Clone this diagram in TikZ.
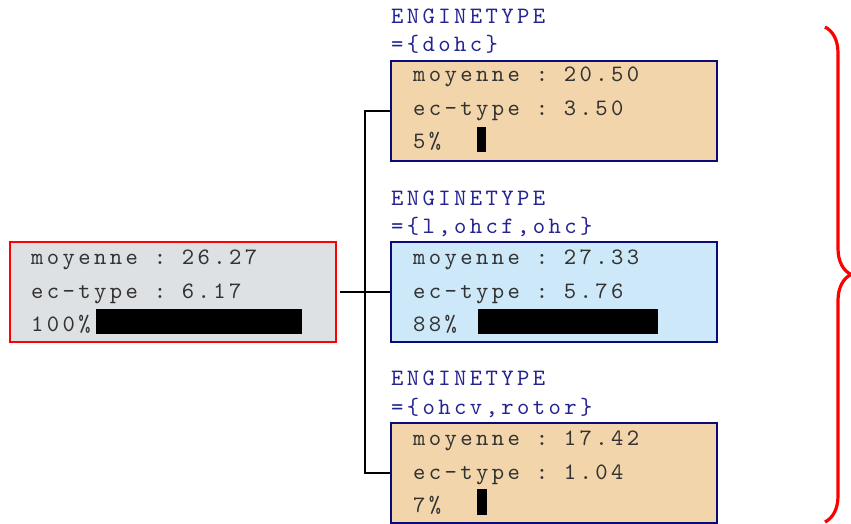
\documentclass[tikz,border=0pt]{standalone}
\usepackage{fontspec}
\setmonofont{lmmono10-regular.otf}[LetterSpace=14.5]
\usetikzlibrary{decorations.pathreplacing}

\definecolor{boxnavy}{RGB}{10,10,120}
\definecolor{titleblue}{RGB}{35,35,145}
\definecolor{statgray}{RGB}{50,50,50}
\definecolor{rootfill}{RGB}{221,225,228}
\definecolor{tanfill}{RGB}{242,213,170}
\definecolor{bluefill}{RGB}{205,232,248}

\tikzset{
  statbox/.style={draw=boxnavy, line width=2pt, fill=tanfill, anchor=north west,
    minimum width=326pt, minimum height=100pt, inner sep=0pt},
  stat/.style={anchor=base west, inner sep=0pt, text=statgray,
    font=\ttfamily\fontsize{23.5}{27}\selectfont},
  splittitle/.style={stat, text=titleblue},
  link/.style={line width=1.8pt}
}

\begin{document}
\begin{tikzpicture}[x=1pt, y=-1pt]
\useasboundingbox (0,0) rectangle (851,524);
% root
\begin{scope}[shift={(9,241)}]
\node[statbox, draw=red, fill=rootfill] (root) at (0,0) {};
\node[stat] (rootmean) at (22,23) {moyenne : 26.27};
\node[stat] (rootsd) at (22,57) {ec-type : 6.17};
\node[stat] (rootpct) at (22,90) {100\%};
\fill (87,68) rectangle ++(206,25);
\end{scope}
% ENGINETYPE = dohc
\begin{scope}[shift={(390,60)}]
\node[statbox] (dohc) at (0,0) {};
\node[splittitle] (dohcname) at (1,-36) {ENGINETYPE};
\node[splittitle] (dohcset) at (1,-8) {=\{dohc\}};
\node[stat] (dohcmean) at (23,22) {moyenne : 20.50};
\node[stat] (dohcsd) at (23,56) {ec-type : 3.50};
\node[stat] (dohcpct) at (23,89) {5\%};
\fill (87,67) rectangle ++(9,25);
\end{scope}
% ENGINETYPE = l,ohcf,ohc
\begin{scope}[shift={(390,241)}]
\node[statbox, fill=bluefill] (ohc) at (0,0) {};
\node[splittitle] (ohcname) at (1,-36) {ENGINETYPE};
\node[splittitle] (ohcset) at (1,-8) {=\{l,ohcf,ohc\}};
\node[stat] (ohcmean) at (23,23) {moyenne : 27.33};
\node[stat] (ohcsd) at (23,57) {ec-type : 5.76};
\node[stat] (ohcpct) at (23,90) {88\%};
\fill (88,68) rectangle ++(180,25);
\end{scope}
% ENGINETYPE = ohcv,rotor
\begin{scope}[shift={(390,422)}]
\node[statbox] (rotor) at (0,0) {};
\node[splittitle] (rotorname) at (1,-37) {ENGINETYPE};
\node[splittitle] (rotorset) at (1,-8) {=\{ohcv,rotor\}};
\node[stat] (rotormean) at (23,23) {moyenne : 17.42};
\node[stat] (rotorsd) at (23,57) {ec-type : 1.04};
\node[stat] (rotorpct) at (23,90) {7\%};
\fill (87,67) rectangle ++(10,26);
\end{scope}
% links
\coordinate (split) at ([xshift=28pt]root.east);
\draw[link, line width=2.6pt] ([xshift=3pt]root.east) -- (split);
\draw[link] (split) |- (dohc.west);
\draw[link] (split) -- (ohc.west);
\draw[link] (split) |- (rotor.west);
% brace
\coordinate (bracetop) at (825,27);
\coordinate (bracebot) at (825,522);
\draw[red, line width=3.2pt, decorate, decoration={brace, amplitude=26pt}] (bracetop) -- (bracebot);
\end{tikzpicture}
\end{document}
